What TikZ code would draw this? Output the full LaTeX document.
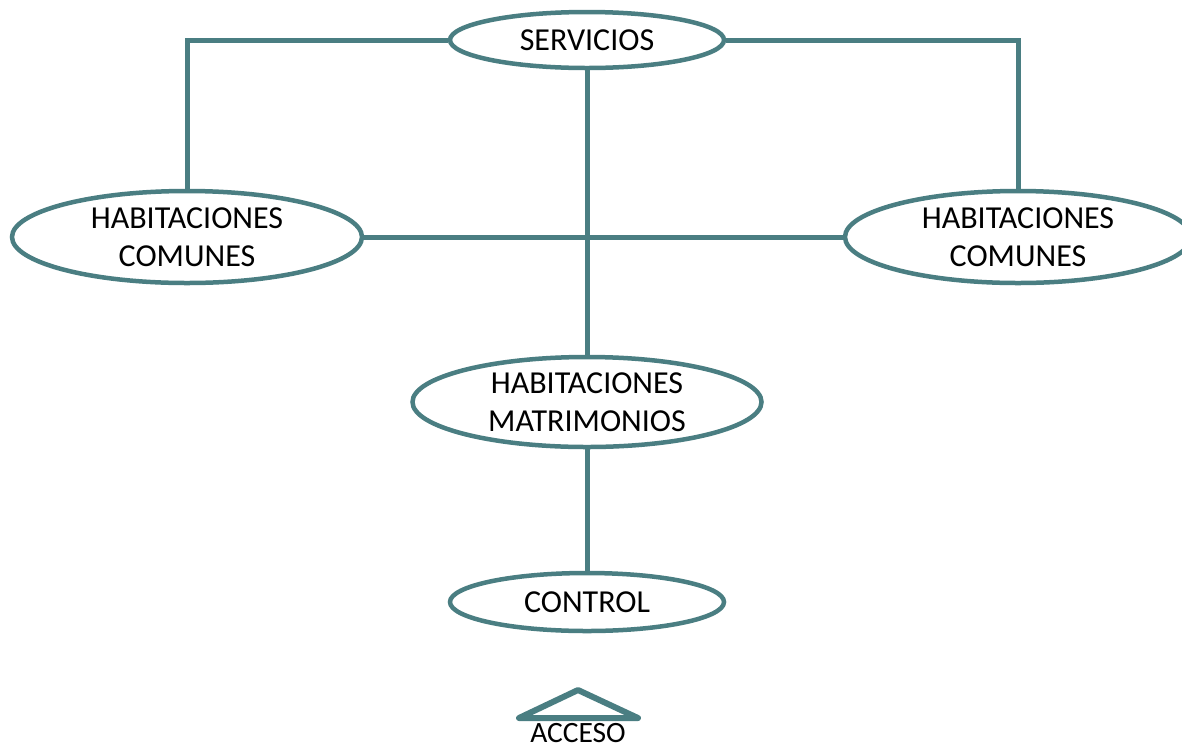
\documentclass[tikz,border=0pt]{standalone}
\usepackage{fontspec}
\setmainfont{Carlito}
\usetikzlibrary{shapes.geometric}
\definecolor{teal}{RGB}{74,126,130}
\tikzset{
  room/.style={ellipse, draw=teal, line width=4.5pt, fill=white, inner sep=0pt,
    align=center, font=\fontsize{32}{38}\selectfont},
  link/.style={draw=teal, line width=5pt},
}
\begin{document}
\begin{tikzpicture}[x=1pt,y=-1pt]
  \clip (0,0) rectangle (1182,748);
  \useasboundingbox (0,0) rectangle (1182,748);
  \fill[white] (0,0) rectangle (1182,748);

  % corner points of the upper branches
  \coordinate (lc) at (187,40);
  \coordinate (rc) at (1018,40);

  \node[room, minimum width=274pt, minimum height=56pt] (serv) at (587,40) {SERVICIOS};
  \node[room, minimum width=350pt, minimum height=92pt] (hcl) at (187,237) {HABITACIONES\\COMUNES};
  \node[room, minimum width=346pt, minimum height=92pt] (hcr) at (1018,237) {HABITACIONES\\COMUNES};
  \node[room, minimum width=349pt, minimum height=90pt] (hm) at (587,402) {HABITACIONES\\MATRIMONIOS};
  \node[room, minimum width=274pt, minimum height=58pt] (ctrl) at (587,602) {CONTROL};

  % connectors between the rooms
  \path[link] (serv.west) -- (lc) -- (hcl.north);
  \path[link] (serv.east) -- (rc) -- (hcr.north);
  \path[link] (serv.south) -- (hm.north);
  \path[link] (hcl.east) -- (hcr.west);
  \path[link] (hm.south) -- (ctrl.north);

  % entrance marker
  \coordinate (a1) at (519,718);
  \coordinate (a2) at (578,690);
  \coordinate (a3) at (638,718);
  \draw[teal, line width=6pt, line join=round, line cap=round] (a1) -- (a2) -- (a3) -- cycle;
  \node[font=\fontsize{29.5}{34}\selectfont, inner sep=0pt] (acc) at (578,733.5) {ACCESO};
\end{tikzpicture}
\end{document}
